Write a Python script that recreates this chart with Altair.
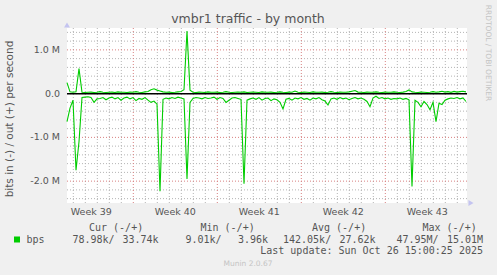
import altair as alt
import pandas as pd
import numpy as np

# ---------------- data ----------------
STEP_DAYS = 0.25  # one sample every 6 hours
# out (+) traffic, kbit/s
out_k = [250, 40, 30, 40, 570, 30, 25, 30, 35, 25,
         30, 45, 30, 25, 30, 35, 25, 40, 30, 30,
         25, 35, 30, 45, 30, 25, 40, 50, 90, 110,
         80, 60, 40, 30, 35, 25, 30, 40, 50, 90,
         1430, 80, 30, 25, 35, 30, 25, 40, 30, 30,
         35, 25, 30, 45, 30, 25, 30, 35, 30, 40,
         25, 30, 35, 30, 25, 40, 30, 30, 35, 25,
         30, 40, 30, 25, 35, 30, 60, 30, 25, 35,
         30, 25, 40, 30, 30, 35, 25, 30, 45, 30,
         25, 35, 30, 30, 40, 55, 70, 35, 30, 25,
         35, 30, 30, 40, 30, 25, 35, 30, 30, 40,
         30, 25, 35, 50, 85, 40, 30, 25, 35, 30,
         25, 30, 45, 30, 40, 55, 35, 45, 30, 50,
         35, 45, 55, 40]
# in (-) traffic, kbit/s (magnitudes)
in_k = [640, 330, 150, 1750, 1100, 90, 80, 70, 90, 200,
        120, 110, 90, 140, 100, 80, 120, 90, 150, 100,
        80, 120, 90, 160, 110, 130, 90, 150, 200, 170,
        240, 2230, 130, 100, 120, 90, 110, 80, 100, 120,
        1950, 200, 110, 90, 100, 120, 90, 110, 100, 80,
        130, 90, 110, 200, 150, 100, 90, 110, 130, 2060,
        150, 120, 100, 130, 90, 150, 110, 100, 160, 120,
        140, 200, 350, 130, 110, 150, 100, 120, 90, 130,
        110, 150, 100, 120, 90, 140, 170, 260, 120, 100,
        130, 90, 120, 100, 140, 110, 90, 120, 100, 130,
        180, 300, 100, 60, 110, 90, 120, 100, 130, 110,
        120, 100, 130, 110, 140, 2120, 150, 200, 300, 180,
        250, 370, 200, 640, 220, 250, 150, 120, 100, 110,
        90, 120, 100, 180]

week_labels = ["Week 39", "Week 40", "Week 41", "Week 42", "Week 43"]
week_centers = [2.025, 9.025, 16.025, 23.025, 30.025]      # days from start
week_starts = [5.525, 12.525, 19.525, 26.525]              # days from start
X_DOMAIN = [0, 400 / 12]                                   # 33.3 days shown
Y_DOMAIN = [-2.5, 1.5]                                     # Mbit/s
y_major = [-2.0, -1.0, 0.0, 1.0]
y_major_labels = ["-2.0 M", "-1.0 M", "0.0", "1.0 M"]

title_text = "vmbr1 traffic - by month"
y_title = "bits in (-) / out (+) per second"
series_name = "bps"
cur_vals = ("78.98k", "33.74k")
min_vals = ("9.01k", "3.96k")
avg_vals = ("142.05k", "27.62k")
max_vals = ("47.95M", "15.01M")
last_update = "Last update: Sun Oct 26 15:00:25 2025"
credit_side = "RRDTOOL / TOBI OETIKER"
credit_bottom = "Munin 2.0.67"

# ---------------- derived tables ----------------
n = len(out_k)
days = [i * STEP_DAYS for i in range(n)]
lines_df = pd.DataFrame({
    "day": days * 2,
    "mbps": [v / 1000 for v in out_k] + [-v / 1000 for v in in_k],
    "dir": ["out"] * n + ["in"] * n,
})

day_lines = [round(week_starts[0] % 1 + k, 3) for k in range(34)]
day_lines = [d for d in day_lines if d < X_DOMAIN[1] and all(abs(d - w) > 0.01 for w in week_starts)]
all_y = [float(round(v, 1)) for v in np.arange(-2.4, 1.41, 0.2)]
minor_y = [v for v in all_y if all(abs(v - m) > 1e-6 for m in y_major)]

# ---------------- styles ----------------
SANS = "DejaVu Sans"
MONO = "DejaVu Sans Mono"
TXT = "#555555"
AXIS_COLOR = "#C4C4F0"
MINOR = "#B4B4B4"
MAJOR = "#D88080"
GREEN = "#00CC00"
W, H = 400, 175
PAD_L, PAD_T = 67, 28

xs = alt.Scale(domain=X_DOMAIN, nice=False, zero=False)
ys = alt.Scale(domain=Y_DOMAIN, nice=False, zero=False)

one = pd.DataFrame({"_": [0]})


def label(text, x_abs, y_abs, size, font=SANS, color=TXT, align="left",
          baseline="middle", angle=0):
    return alt.Chart(one).mark_text(
        text=text, font=font, fontSize=size, color=color, align=align,
        baseline=baseline, angle=angle,
    ).encode(x=alt.value(x_abs - PAD_L), y=alt.value(y_abs - PAD_T))


# ---------------- layers ----------------
minor_v = alt.Chart(pd.DataFrame({"x": day_lines})).mark_rule(
    color=MINOR, strokeDash=[1, 2], strokeWidth=1
).encode(x=alt.X("x:Q", scale=xs, axis=alt.Axis(
    labels=False, ticks=False, grid=False, title=None,
    domainColor=AXIS_COLOR, domainWidth=1.5, zindex=1)))

minor_h = alt.Chart(pd.DataFrame({"y": minor_y})).mark_rule(
    color=MINOR, strokeDash=[1, 2], strokeWidth=1
).encode(y=alt.Y("y:Q", scale=ys, axis=None))

major_v = alt.Chart(pd.DataFrame({"x": week_starts})).mark_rule(
    color=MAJOR, strokeDash=[1, 2], strokeWidth=1
).encode(x=alt.X("x:Q", scale=xs, axis=None))

major_h = alt.Chart(pd.DataFrame({"y": y_major})).mark_rule(
    color=MAJOR, strokeDash=[1, 2], strokeWidth=1
).encode(y=alt.Y("y:Q", scale=ys, axis=None))

# y tick labels, placed through the y scale
y_labels = alt.Chart(pd.DataFrame({"y": y_major, "t": y_major_labels})).mark_text(
    font=SANS, fontSize=9.5, color=TXT, align="right", baseline="middle"
).encode(
    x=alt.value(60 - PAD_L),
    y=alt.Y("y:Q", scale=ys, axis=alt.Axis(
        labels=False, ticks=False, grid=False, title=None,
        domainColor=AXIS_COLOR, domainWidth=1.5, zindex=1)),
    text="t:N",
)

zero_line = alt.Chart(pd.DataFrame({"y": [0]})).mark_rule(
    color="black", strokeWidth=1.5
).encode(y=alt.Y("y:Q", scale=ys, axis=None))

traffic = alt.Chart(lines_df).mark_line(
    color=GREEN, strokeWidth=1.1
).encode(
    x=alt.X("day:Q", scale=xs, axis=None),
    y=alt.Y("mbps:Q", scale=ys, axis=None),
    detail="dir:N",
)

arrow_y = alt.Chart(pd.DataFrame({"x": [X_DOMAIN[0]], "y": [Y_DOMAIN[1]]})).mark_point(
    shape="triangle-up", filled=True, size=35, color=AXIS_COLOR, opacity=1, yOffset=-3
).encode(x=alt.X("x:Q", scale=xs, axis=None), y=alt.Y("y:Q", scale=ys, axis=None))

arrow_x = alt.Chart(pd.DataFrame({"x": [X_DOMAIN[1]], "y": [Y_DOMAIN[0]]})).mark_point(
    shape="triangle-right", filled=True, size=35, color=AXIS_COLOR, opacity=1, xOffset=4
).encode(x=alt.X("x:Q", scale=xs, axis=None), y=alt.Y("y:Q", scale=ys, axis=None))

weeks = alt.Chart(pd.DataFrame({"c": week_centers, "w": week_labels})).mark_text(
    font=SANS, fontSize=9.5, color=TXT, baseline="middle"
).encode(x=alt.X("c:Q", scale=xs, axis=None), y=alt.value(212 - PAD_T), text="w:N")

legend_square = alt.Chart(one).mark_square(
    color=GREEN, size=36, filled=True, opacity=1
).encode(x=alt.value(17 - PAD_L), y=alt.value(239.5 - PAD_T))

texts = [
    label(title_text, 248, 23, 12.5, align="center", baseline="alphabetic"),
    label(y_title, 10, 119, 10.5, align="center", angle=270),
    label(credit_side, 487.5, 53, 7.5, color="#C4C4C4", align="center", angle=90),
    label("Cur (-/+)", 89, 228, 10, font=MONO),
    label("Min (-/+)", 200.5, 228, 10, font=MONO),
    label("Avg (-/+)", 312, 228, 10, font=MONO),
    label("Max (-/+)", 422.5, 228, 10, font=MONO),
    label(series_name, 26.5, 239.5, 10, font=MONO),
    label(cur_vals[0] + "/", 72.5, 239.5, 10, font=MONO),
    label(cur_vals[1], 158.5, 239.5, 10, font=MONO, align="right"),
    label(min_vals[0] + "/", 185.5, 239.5, 10, font=MONO),
    label(min_vals[1], 268, 239.5, 10, font=MONO, align="right"),
    label(avg_vals[0] + "/", 283, 239.5, 10, font=MONO),
    label(avg_vals[1], 375.5, 239.5, 10, font=MONO, align="right"),
    label(max_vals[0] + "/", 396.5, 239.5, 10, font=MONO),
    label(max_vals[1], 483, 239.5, 10, font=MONO, align="right"),
    label(last_update, 483, 251, 10, font=MONO, align="right"),
    label(credit_bottom, 248, 264, 7.5, color="#C4C4C4", align="center"),
]

chart = alt.layer(
    minor_v, minor_h, major_v, major_h, y_labels, zero_line, traffic,
    arrow_y, arrow_x, weeks, legend_square, *texts
).properties(
    width=W, height=H,
    background="#F0F0F0",
    padding={"left": PAD_L, "top": PAD_T, "right": 497 - PAD_L - W, "bottom": 275 - PAD_T - H},
    autosize=alt.AutoSizeParams(type="none"),
).configure_view(strokeWidth=0, fill="white")

chart.save("out.html", embed_options={"renderer": "svg", "actions": False})
